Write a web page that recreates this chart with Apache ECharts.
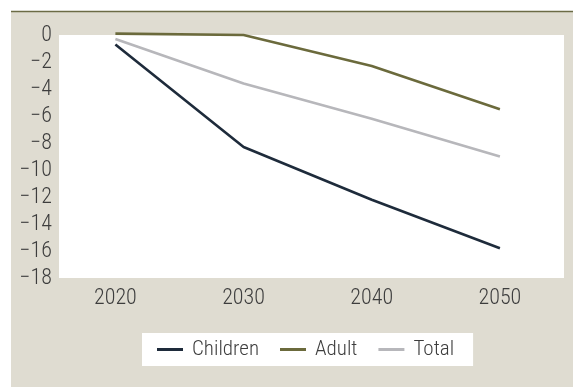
<!DOCTYPE html>
<html>
<head>
<meta charset="utf-8">
<style>
  html, body { margin: 0; padding: 0; background: #ffffff; }
  #chart { width: 573px; height: 387px; }
</style>
<script src="https://cdn.jsdelivr.net/npm/echarts@6/dist/echarts.min.js"></script>
</head>
<body>
<div id="chart"></div>
<script>
// Projected change in population by group (%)
const years = [2020, 2030, 2040, 2050];
const children = [-0.7, -8.3, -12.2, -15.8];
const adult = [0.1, 0.0, -2.3, -5.5];
const total = [-0.3, -3.6, -6.2, -9.0];
const yTicks = { min: -18, max: 0, step: 2 };

const FONT = '"Roboto Condensed", "Liberation Sans Narrow", "Arial Narrow", sans-serif';
const TEXT = '#3d3d3d';
const BEIGE = '#dfdcd1';
const pairs = arr => years.map((y, i) => [y, arr[i]]);

const chart = echarts.init(document.getElementById('chart'), null, { renderer: 'canvas' });

chart.setOption({
  backgroundColor: '#ffffff',
  animation: false,
  graphic: [
    { type: 'rect', z: -10, shape: { x: 11, y: 11, width: 562, height: 376 }, style: { fill: BEIGE } },
    { type: 'line', z: 5, shape: { x1: 11, y1: 11.5, x2: 573, y2: 11.5 }, style: { stroke: '#6b6b45', lineWidth: 1.5 } },
    // chart title sits above the panel, mostly outside the page
    { type: 'text', z: 5,
      style: { x: 115, y: 1, verticalAlign: 'bottom', text: 'Shrinking of population',
               font: 'bold 26px "Liberation Serif", "DejaVu Serif", serif', fill: '#5b5b2e' } }
  ],
  grid: {
    left: 59, right: 9, top: 35, bottom: 109,
    show: true, backgroundColor: '#ffffff', borderWidth: 0
  },
  xAxis: {
    type: 'value',
    min: 2015.6, max: 2055,
    axisLine: { show: false },
    axisTick: { show: false },
    splitLine: { show: false },
    axisLabel: {
      customValues: years,
      formatter: v => String(v),
      color: TEXT, fontFamily: FONT, fontWeight: 300, fontSize: 22, margin: 9
    }
  },
  yAxis: {
    type: 'value',
    min: yTicks.min, max: yTicks.max, interval: yTicks.step,
    axisLine: { show: false },
    axisTick: { show: false },
    splitLine: { show: false },
    axisLabel: {
      formatter: v => (v < 0 ? '\u2212' + Math.abs(v) : String(v)),
      color: TEXT, fontFamily: FONT, fontWeight: 300, fontSize: 22, margin: 7
    }
  },
  legend: {
    left: 142, top: 333,
    backgroundColor: '#ffffff',
    padding: [6, 19, 6, 15],
    itemWidth: 26, itemHeight: 3, itemGap: 21,
    icon: 'rect',
    textStyle: { color: TEXT, fontFamily: FONT, fontWeight: 300, fontSize: 21, padding: [0, 0, 0, 4] },
    data: ['Children', 'Adult', 'Total']
  },
  series: [
    { name: 'Children', type: 'line', data: pairs(children), showSymbol: false, clip: false,
      lineStyle: { color: '#1e2b3b', width: 2.6 }, itemStyle: { color: '#1e2b3b' } },
    { name: 'Adult', type: 'line', data: pairs(adult), showSymbol: false, clip: false,
      lineStyle: { color: '#6b6a3c', width: 2.6 }, itemStyle: { color: '#6b6a3c' } },
    { name: 'Total', type: 'line', data: pairs(total), showSymbol: false, clip: false,
      lineStyle: { color: '#b7b7bb', width: 2.6 }, itemStyle: { color: '#b7b7bb' } }
  ]
});
</script>
</body>
</html>
